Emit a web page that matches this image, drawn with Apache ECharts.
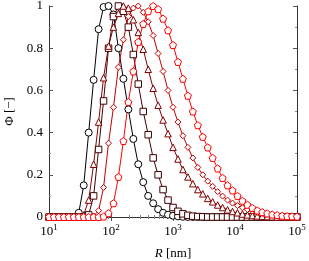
<!DOCTYPE html>
<html><head><meta charset="utf-8">
<script src="https://cdn.jsdelivr.net/npm/echarts@6/dist/echarts.min.js"></script>
<style>html,body{margin:0;padding:0;background:#fff}#c{width:309px;height:261px}</style>
</head><body><div id="c"></div>
<script>
const R = [10, 12.02, 14.45, 17.38, 20.89, 25.12, 30.2, 36.31, 43.65, 52.48, 63.1, 75.86, 91.2, 109.6, 131.8, 158.5, 190.5, 229.1, 275.4, 331.1, 398.1, 478.6, 575.4, 691.8, 831.8, 1000, 1202, 1445, 1738, 2089, 2512, 3020, 3631, 4365, 5248, 6310, 7586, 9120, 10965, 13183, 15849, 19055, 22909, 27542, 33113, 39811, 47863, 57544, 69183, 83176, 100000];
const phiCircle = [0,0,0,0,0,0,0.02,0.15,0.40,0.65,0.89,0.995,1.0,0.96,0.80,0.655,0.51,0.37,0.25,0.165,0.10,0.065,0.037,0.02,0.011,0.006,0.003,0.001,0,0,0,0,0,0,0,0,0,0,0,0,0,0,0,0,0,0,0,0,0,0,0];
const phiSquare = [0,0,0,0,0,0,0,0,0.01,0.10,0.32,0.55,0.80,0.95,1.0,0.975,0.90,0.77,0.63,0.50,0.39,0.28,0.20,0.13,0.08,0.045,0.027,0.015,0.008,0.004,0.002,0.001,0,0,0,0,0,0,0,0,0,0,0,0,0,0,0,0,0,0,0];
const phiTriangle = [0,0,0,0,0,0,0,0.01,0.08,0.25,0.45,0.66,0.81,0.90,0.965,1.0,0.99,0.935,0.875,0.795,0.70,0.61,0.53,0.46,0.395,0.33,0.275,0.225,0.19,0.158,0.13,0.11,0.088,0.072,0.057,0.045,0.034,0.026,0.02,0.014,0.01,0.007,0.005,0.003,0.002,0.001,0,0,0,0,0];
const phiDiamond = [0,0,0,0,0,0,0,0,0,0.005,0.03,0.14,0.35,0.52,0.71,0.84,0.95,0.99,1.0,0.97,0.925,0.86,0.775,0.69,0.60,0.52,0.45,0.385,0.33,0.28,0.235,0.20,0.17,0.145,0.12,0.099,0.08,0.066,0.054,0.044,0.035,0.028,0.022,0.017,0.013,0.01,0.007,0.005,0.003,0.002,0.001];
const phiPentagon = [0,0,0,0,0,0,0,0,0,0,0,0.002,0.018,0.065,0.19,0.36,0.545,0.69,0.83,0.915,0.975,1.0,0.985,0.94,0.885,0.815,0.735,0.655,0.575,0.50,0.435,0.38,0.33,0.28,0.23,0.185,0.15,0.126,0.10,0.077,0.058,0.043,0.031,0.023,0.017,0.012,0.009,0.006,0.004,0.003,0.002];
const yTicks = [0, 0.2, 0.4, 0.6, 0.8, 1];

const pent = 'path://M0,-10 L9.51,-3.09 L5.88,8.09 L-5.88,8.09 L-9.51,-3.09 Z';
const FONT = 'Liberation Serif';
function mk(name, vals, color, symbol, size){
  return {
    name, type:'line', data: R.map((r,i)=>[r, vals[i]]),
    symbol, symbolSize:size, showAllSymbol:true, clip:false,
    lineStyle:{color, width:1},
    itemStyle:{color:'#fff', borderColor:color, borderWidth:1},
    emphasis:{disabled:true}, animation:false, z:3
  };
}
const chart = echarts.init(document.getElementById('c'), null, {renderer:'canvas'});
const axisCommon = {
  axisLine:{show:true, lineStyle:{color:'#333', width:1}},
  axisTick:{show:true, inside:true, length:4, lineStyle:{color:'#555'}},
  minorTick:{show:true, length:2, lineStyle:{color:'#888'}},
  splitLine:{show:false}
};
chart.setOption({
  animation:false,
  grid:{left:49, right:12, top:6, bottom:44, containLabel:false, outerBoundsMode:'none'},
  xAxis:[
    Object.assign({}, axisCommon, {type:'log', logBase:10, min:10, max:100000, position:'bottom',
      name:'{i|R} [nm]', nameLocation:'middle', nameGap:30,
      nameTextStyle:{fontFamily:FONT, fontSize:13, color:'#000', rich:{i:{fontFamily:FONT, fontSize:13, fontStyle:'italic', color:'#000'}}},
      minorTick:{show:true, splitNumber:9, length:2, lineStyle:{color:'#888'}},
      axisLabel:{margin:6, color:'#000', fontFamily:FONT, fontSize:13,
        formatter:v=>'10{s|'+Math.round(Math.log10(v))+'}',
        rich:{s:{fontFamily:FONT, fontSize:9, color:'#000', padding:[0,0,9,0]}}}}),
    Object.assign({}, axisCommon, {type:'log', logBase:10, min:10, max:100000, position:'top',
      minorTick:{show:true, splitNumber:9, length:2, lineStyle:{color:'#888'}},
      axisLabel:{show:false}})
  ],
  yAxis:[
    Object.assign({}, axisCommon, {type:'value', min:0, max:1, interval:0.2, position:'left',
      name:'Φ [−]', nameLocation:'middle', nameGap:31, nameRotate:90,
      nameTextStyle:{fontFamily:FONT, fontSize:13, color:'#000'},
      minorTick:{show:true, splitNumber:2, length:2, lineStyle:{color:'#888'}},
      axisLabel:{margin:6, color:'#000', fontFamily:FONT, fontSize:13,
        formatter:v=>{const t=yTicks.find(x=>Math.abs(x-v)<1e-9); return t===undefined?'':String(t);}}}),
    Object.assign({}, axisCommon, {type:'value', min:0, max:1, interval:0.2, position:'right',
      minorTick:{show:true, splitNumber:2, length:2, lineStyle:{color:'#888'}},
      axisLabel:{show:false}})
  ],
  series:[
    mk('c', phiCircle, '#000000', 'circle', 7),
    mk('s', phiSquare, '#400000', 'rect', 6.5),
    mk('t', phiTriangle, '#800000', 'triangle', 6.5),
    mk('d', phiDiamond, '#c00000', 'diamond', 6),
    mk('p', phiPentagon, '#ff0000', pent, 7)
  ]
});
</script></body></html>
